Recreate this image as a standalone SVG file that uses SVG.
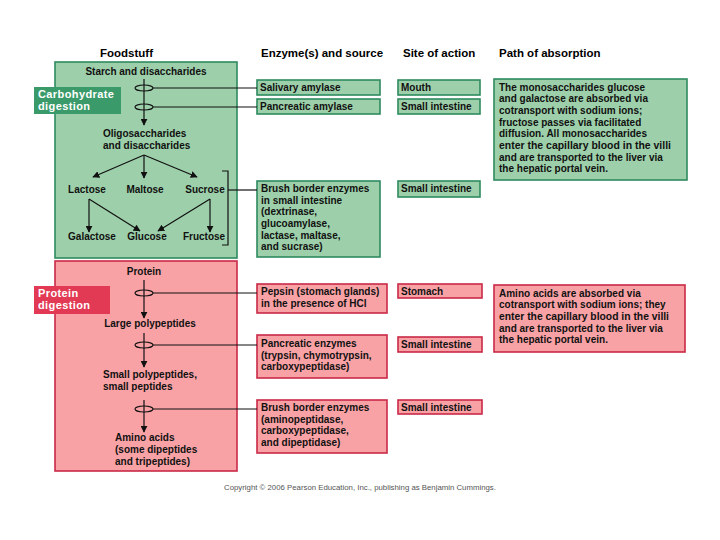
<svg xmlns="http://www.w3.org/2000/svg" width="720" height="540" viewBox="0 0 720 540">
<style>
text{font-family:"Liberation Sans",Arial,sans-serif;font-weight:bold;font-size:10px;fill:#111}
.h{font-size:11.5px;fill:#000}
.lab{font-size:11px;fill:#fff;letter-spacing:0.4px}
.g{fill:#9dd0aa;stroke:#2f8a5f;stroke-width:1.6}
.r{fill:#f9a2a6;stroke:#c92a46;stroke-width:1.6}
.ln{stroke:#111;stroke-width:1.2;fill:none}
.el{stroke:#111;stroke-width:1.1;fill:none}
.c{text-anchor:middle}
.cp{font-weight:normal;font-size:7.8px;fill:#555}
</style>
<defs>
<marker id="ah" viewBox="0 0 10 10" refX="9" refY="5" markerWidth="7" markerHeight="7" orient="auto" markerUnits="userSpaceOnUse">
<path d="M0,0 L10,5 L0,10 z" fill="#111"/>
</marker>
</defs>
<rect width="720" height="540" fill="#fff"/>
<g id="headers">
<text class="h" x="100" y="57">Foodstuff</text>
<text class="h" x="261" y="57">Enzyme(s) and source</text>
<text class="h" x="403" y="57">Site of action</text>
<text class="h" x="499" y="57">Path of absorption</text>
</g>
<g id="carb-panel">
<rect class="g" x="55" y="62" width="182" height="196"/>
</g>
<g id="carb-label">
<rect x="34" y="87" width="87" height="27" fill="#3a9a6a"/>
<text class="lab" x="38" y="98">Carbohydrate</text>
<text class="lab" x="38" y="110">digestion</text>
</g>
<g id="protein-panel">
<rect class="r" x="55" y="261" width="182" height="210"/>
</g>
<g id="protein-label">
<rect x="34" y="286" width="76" height="28" fill="#e23a55"/>
<text class="lab" x="38" y="297">Protein</text>
<text class="lab" x="38" y="309">digestion</text>
</g>
<g id="carb-foods">
<text class="c" x="146" y="75">Starch and disaccharides</text>
<text x="103" y="137">Oligosaccharides</text>
<text x="103" y="149">and disaccharides</text>
<text class="c" x="87" y="193">Lactose</text>
<text class="c" x="145" y="193">Maltose</text>
<text class="c" x="205" y="193">Sucrose</text>
<text class="c" x="92" y="240">Galactose</text>
<text class="c" x="147" y="240">Glucose</text>
<text class="c" x="204" y="240">Fructose</text>
</g>
<g id="protein-foods">
<text class="c" x="144" y="275">Protein</text>
<text class="c" x="150" y="327">Large polypeptides</text>
<text x="103" y="378">Small polypeptides,</text>
<text x="103" y="390">small peptides</text>
<text x="115" y="441">Amino acids</text>
<text x="115" y="453">(some dipeptides</text>
<text x="115" y="465">and tripeptides)</text>
</g>
<g id="enzymes-carb">
<rect class="g" x="257" y="80" width="123" height="15"/>
<text x="260" y="91">Salivary amylase</text>
<rect class="g" x="257" y="99" width="123" height="15"/>
<text x="260" y="110">Pancreatic amylase</text>
<rect class="g" x="257" y="181" width="123" height="76"/>
<text x="261" y="192">Brush border enzymes</text>
<text x="261" y="204">in small intestine</text>
<text x="261" y="215">(dextrinase,</text>
<text x="261" y="227">glucoamylase,</text>
<text x="261" y="239">lactase, maltase,</text>
<text x="261" y="250">and sucrase)</text>
</g>
<g id="sites-carb">
<rect class="g" x="398" y="80" width="82" height="15"/>
<text x="401" y="91">Mouth</text>
<rect class="g" x="398" y="99" width="82" height="15"/>
<text x="401" y="110">Small intestine</text>
<rect class="g" x="398" y="181" width="82" height="16"/>
<text x="401" y="192">Small intestine</text>
</g>
<g id="path-carb">
<rect class="g" x="494" y="79" width="193" height="101"/>
<text x="499" y="91">The monosaccharides glucose</text>
<text x="499" y="102">and galactose are absorbed via</text>
<text x="499" y="114">cotransport with sodium ions;</text>
<text x="499" y="126">fructose passes via facilitated</text>
<text x="499" y="137">diffusion. All monosaccharides</text>
<text x="499" y="149" textLength="172" lengthAdjust="spacingAndGlyphs">enter the capillary blood in the villi</text>
<text x="499" y="161">and are transported to the liver via</text>
<text x="499" y="172">the hepatic portal vein.</text>
</g>
<g id="enzymes-protein">
<rect class="r" x="257" y="284" width="130" height="29"/>
<text x="261" y="295">Pepsin (stomach glands)</text>
<text x="261" y="307">in the presence of HCl</text>
<rect class="r" x="257" y="335" width="130" height="43"/>
<text x="261" y="347">Pancreatic enzymes</text>
<text x="261" y="359">(trypsin, chymotrypsin,</text>
<text x="261" y="370">carboxypeptidase)</text>
<rect class="r" x="257" y="400" width="130" height="53"/>
<text x="261" y="411">Brush border enzymes</text>
<text x="261" y="423">(aminopeptidase,</text>
<text x="261" y="434">carboxypeptidase,</text>
<text x="261" y="446">and dipeptidase)</text>
</g>
<g id="sites-protein">
<rect class="r" x="398" y="284" width="84" height="14"/>
<text x="401" y="295">Stomach</text>
<rect class="r" x="398" y="337" width="84" height="15"/>
<text x="401" y="348">Small intestine</text>
<rect class="r" x="398" y="400" width="84" height="14"/>
<text x="401" y="411">Small intestine</text>
</g>
<g id="path-protein">
<rect class="r" x="494" y="285" width="191" height="67"/>
<text x="499" y="297">Amino acids are absorbed via</text>
<text x="499" y="308">cotransport with sodium ions; they</text>
<text x="499" y="320" textLength="170" lengthAdjust="spacingAndGlyphs">enter the capillary blood in the villi</text>
<text x="499" y="332">and are transported to the liver via</text>
<text x="499" y="343">the hepatic portal vein.</text>
</g>
<g id="connectors">
<line class="ln" x1="144" y1="79" x2="144" y2="125" marker-end="url(#ah)"/>
<ellipse class="el" cx="144" cy="88" rx="9" ry="3"/>
<ellipse class="el" cx="144" cy="107" rx="9" ry="3"/>
<line class="ln" x1="153" y1="88" x2="257" y2="88"/>
<line class="ln" x1="153" y1="107" x2="257" y2="107"/>
<line class="ln" x1="144" y1="155" x2="93" y2="177" marker-end="url(#ah)"/>
<line class="ln" x1="144" y1="155" x2="144" y2="178" marker-end="url(#ah)"/>
<line class="ln" x1="144" y1="155" x2="197" y2="177" marker-end="url(#ah)"/>
<line class="ln" x1="89" y1="199" x2="89" y2="232" marker-end="url(#ah)"/>
<line class="ln" x1="89" y1="199" x2="140" y2="231" marker-end="url(#ah)"/>
<line class="ln" x1="210" y1="199" x2="210" y2="232" marker-end="url(#ah)"/>
<line class="ln" x1="210" y1="199" x2="158" y2="231" marker-end="url(#ah)"/>
<polyline class="ln" points="222,171 228,171 228,245 222,245"/>
<line class="ln" x1="228" y1="190" x2="257" y2="190"/>
<line class="ln" x1="144" y1="280" x2="144" y2="318" marker-end="url(#ah)"/>
<ellipse class="el" cx="144" cy="293" rx="9" ry="3"/>
<line class="ln" x1="153" y1="293" x2="257" y2="293"/>
<line class="ln" x1="144" y1="333" x2="144" y2="367" marker-end="url(#ah)"/>
<ellipse class="el" cx="144" cy="345" rx="9" ry="3"/>
<line class="ln" x1="153" y1="345" x2="257" y2="345"/>
<line class="ln" x1="144" y1="400" x2="144" y2="432" marker-end="url(#ah)"/>
<ellipse class="el" cx="144" cy="409" rx="9" ry="3"/>
<line class="ln" x1="153" y1="409" x2="257" y2="409"/>
</g>
<text class="cp c" x="360" y="490">Copyright © 2006 Pearson Education, Inc., publishing as Benjamin Cummings.</text>
</svg>
